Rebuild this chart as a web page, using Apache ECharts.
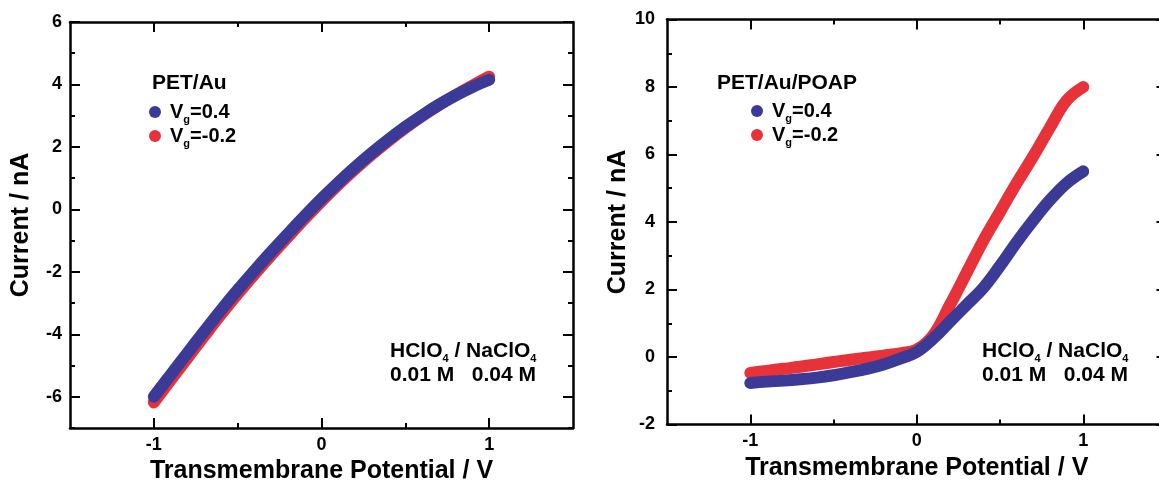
<!DOCTYPE html>
<html>
<head>
<meta charset="utf-8">
<script src="https://cdn.jsdelivr.net/npm/echarts@6/dist/echarts.min.js"></script>
<style>
  html, body { margin: 0; padding: 0; background: #fff; }
  #main { width: 1159px; height: 483px; }
</style>
</head>
<body>
<div id="main"></div>
<script>
// transmembrane potential (V), same sweep for every curve
const volts = [-1.0, -0.9, -0.8, -0.7, -0.6, -0.5, -0.4, -0.3, -0.2, -0.1, 0.0,
               0.1, 0.2, 0.3, 0.4, 0.5, 0.6, 0.7, 0.8, 0.9, 1.0];

// PET/Au
const auBlue = [-6.0, -5.3, -4.6, -3.91, -3.23, -2.58, -1.96, -1.36, -0.78, -0.21, 0.34,
                0.86, 1.35, 1.81, 2.24, 2.64, 3.01, 3.35, 3.65, 3.92, 4.15];
const auRed = [-6.18, -5.47, -4.76, -4.06, -3.37, -2.71, -2.08, -1.47, -0.88, -0.3, 0.26,
               0.79, 1.29, 1.76, 2.2, 2.61, 2.99, 3.34, 3.66, 3.96, 4.25];

// PET/Au/POAP
const poapBlue = [-0.77, -0.73, -0.7, -0.66, -0.61, -0.54, -0.45, -0.35, -0.22, -0.05, 0.15,
                  0.55, 1.05, 1.55, 2.05, 2.7, 3.4, 4.05, 4.65, 5.15, 5.5];
const poapRed = [-0.47, -0.41, -0.35, -0.29, -0.22, -0.15, -0.08, -0.02, 0.04, 0.11, 0.22,
                 0.65, 1.55, 2.5, 3.45, 4.3, 5.15, 5.95, 6.8, 7.6, 8.0];

const xMajor = [-1, 0, 1];
const xMinor = [-0.5, 0.5];
const auYMajor = [-6, -4, -2, 0, 2, 4, 6];
const auYMinor = [-7, -5, -3, -1, 1, 3, 5];
const poapYMajor = [-2, 0, 2, 4, 6, 8, 10];
const poapYMinor = [-1, 1, 3, 5, 7, 9];

const BLUE = "#3b3a97";
const RED = "#e8323a";
const FONT = "Liberation Sans";

const chart = echarts.init(document.getElementById("main"));

function pairs(ys) {
  return volts.map((v, i) => [v, ys[i]]);
}

// an axis = one element with line + short ticks + labels, and an overlay with the long ticks
function axisPair(grid, position, min, max, major, minor, extra) {
  const base = {
    gridIndex: grid,
    type: "value",
    position: position,
    min: min,
    max: max,
    splitLine: { show: false },
    axisLine: { onZero: false, lineStyle: { color: "#000", width: 2.5 } },
  };
  const main = Object.assign({}, base, {
    axisTick: {
      inside: true, length: 5, customValues: minor,
      lineStyle: { color: "#000", width: 2 },
    },
    axisLabel: { show: false },
  }, extra || {});
  const over = Object.assign({}, base, {
    axisLine: { show: false, onZero: false },
    axisTick: {
      inside: true, length: 10, customValues: major,
      lineStyle: { color: "#000", width: 2 },
    },
    axisLabel: { show: false },
  });
  return [main, over];
}

const labelStyle = (margin, vals) => ({
  show: true, customValues: vals, margin: margin,
  color: "#000", fontFamily: FONT, fontWeight: "bold", fontSize: 18,
});
const nameStyle = { color: "#000", fontFamily: FONT, fontWeight: "bold", fontSize: 25 };

const xAxes = [];
const yAxes = [];
[0, 1].forEach((g) => {
  xAxes.push(...axisPair(g, "bottom", -1.5, 1.5, xMajor, xMinor, {
    axisLabel: labelStyle(8, xMajor),
    name: "Transmembrane Potential / V",
    nameLocation: "middle",
    nameGap: 30,
    nameTextStyle: nameStyle,
  }));
  xAxes.push(...axisPair(g, "top", -1.5, 1.5, xMajor, xMinor));
});
// x indices: grid0 bottom = 0, grid1 bottom = 4

yAxes.push(...axisPair(0, "left", -7, 6, auYMajor, auYMinor, {
  axisLabel: labelStyle(8, auYMajor),
  name: "Current / nA",
  nameLocation: "middle",
  nameGap: 36,
  nameTextStyle: nameStyle,
}));
yAxes.push(...axisPair(0, "right", -7, 6, auYMajor, auYMinor));
yAxes.push(...axisPair(1, "left", -2, 10, poapYMajor, poapYMinor, {
  axisLabel: labelStyle(12, poapYMajor),
  name: "Current / nA",
  nameLocation: "middle",
  nameGap: 36,
  nameTextStyle: nameStyle,
}));
yAxes.push(...axisPair(1, "right", -2, 10, poapYMajor, poapYMinor));
// y indices: grid0 left = 0, grid1 left = 4

function curve(name, color, x, y, ys) {
  return {
    name: name,
    type: "line",
    xAxisIndex: x,
    yAxisIndex: y,
    data: pairs(ys),
    smooth: 0.4,
    showSymbol: false,
    color: color,
    lineStyle: { color: color, width: 12, cap: "round", join: "round" },
    animation: false,
  };
}

const legendRich = {
  v: { fontFamily: FONT, fontWeight: "bold", fontSize: 20, color: "#000" },
  g: { fontFamily: FONT, fontWeight: "bold", fontSize: 11, color: "#000",
       verticalAlign: "bottom", lineHeight: 26 },
};
function legendAt(left, top) {
  return {
    data: ["Vg=0.4", "Vg=-0.2"],
    orient: "vertical",
    left: left,
    top: top,
    icon: "circle",
    itemWidth: 12,
    itemHeight: 12,
    itemGap: 1,
    selectedMode: false,
    formatter: (n) => "{v|V}{g|g}{v|" + n.slice(2) + "}",
    textStyle: { rich: legendRich, padding: [0, 0, 0, 4] },
  };
}

const sub = {
  t: { fontFamily: FONT, fontWeight: "bold", fontSize: 21, color: "#000" },
  s: { fontFamily: FONT, fontWeight: "bold", fontSize: 11, color: "#000",
       verticalAlign: "bottom", lineHeight: 26 },
};
function note(x, y) {
  return {
    type: "text",
    left: x,
    top: y,
    style: {
      text: "{t|HClO}{s|4}{t| / NaClO}{s|4}\n{t|0.01 M   0.04 M}",
      rich: sub,
    },
  };
}
function heading(x, y, txt) {
  return {
    type: "text",
    left: x,
    top: y,
    style: { text: txt, fontFamily: FONT, fontWeight: "bold", fontSize: 21, fill: "#000" },
  };
}

const option = {
  backgroundColor: "#fff",
  animation: false,
  grid: [
    { left: 70, width: 503, top: 22, height: 406, outerBoundsMode: "none" },
    // right border sits just past the edge of the picture
    { left: 667, width: 499.5, top: 19.5, height: 405, outerBoundsMode: "none" },
  ],
  xAxis: xAxes,
  yAxis: yAxes,
  legend: [legendAt(144, 97), legendAt(746, 96)],
  graphic: [
    heading(152, 73, "PET/Au"),
    heading(717, 73, "PET/Au/POAP"),
    note(390, 341),
    note(982, 341),
  ],
  series: [
    curve("Vg=-0.2", RED, 0, 0, auRed),
    curve("Vg=0.4", BLUE, 0, 0, auBlue),
    curve("Vg=-0.2", RED, 4, 4, poapRed),
    curve("Vg=0.4", BLUE, 4, 4, poapBlue),
  ],
};

chart.setOption(option);
window.addEventListener("resize", () => chart.resize());
</script>
</body>
</html>
